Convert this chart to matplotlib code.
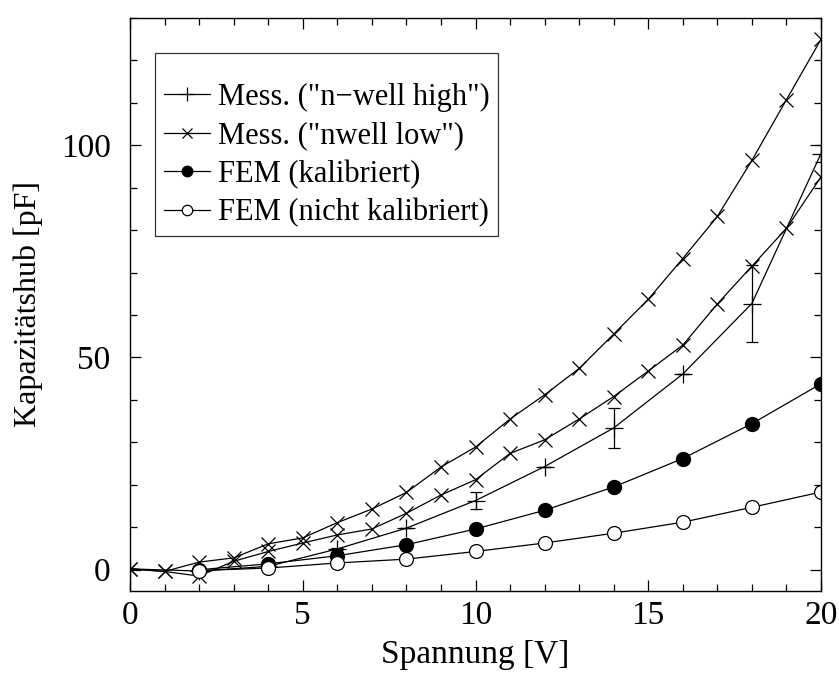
import numpy as np
import matplotlib
matplotlib.use("Agg")
import matplotlib.pyplot as plt
from matplotlib.ticker import MultipleLocator

plt.rcParams['font.family'] = ['Liberation Serif', 'DejaVu Serif']

# data
volts_all = list(range(0, 21))
volts_even = list(range(0, 21, 2))
volts_fem = list(range(2, 21, 2))

nwell_low_a = [0.2, -0.4, 1.8, 2.8, 6.1, 7.5, 11.1, 14.3, 18.2, 24.2, 28.9,
               35.5, 41.2, 47.4, 55.5, 63.7, 73.3, 83.2, 96.4, 110.7, 124.9]
nwell_low_b = [0.2, -0.4, -1.5, 2.0, 4.3, 6.3, 8.2, 9.6, 13.3, 17.6, 21.2,
               27.4, 30.6, 35.5, 40.8, 46.8, 52.9, 62.6, 71.5, 80.4, 92.5]
nwell_high = [0.2, -0.3, 0.8, 4.9, 9.8, 16.3, 24.3, 33.4, 46.1, 62.7, 98.0]
nwell_high_err = [0, 0, 0, 0.3, 0, 2.0, 0, 4.8, 0, 9.0, 2.0]
fem_kal = [0.0, 1.4, 3.3, 5.9, 9.6, 14.0, 19.5, 26.2, 34.4, 43.8]
fem_nicht = [-0.2, 0.4, 1.6, 2.5, 4.3, 6.3, 8.6, 11.2, 14.7, 18.3]

fig = plt.figure(figsize=(8.39, 6.84), dpi=100)
ax = fig.add_axes([0.155, 0.136, 0.8235, 0.838])

lw = 0.9
ax.errorbar(volts_even, nwell_high, yerr=nwell_high_err, fmt='none',
            ecolor='black', elinewidth=lw, capsize=4.5, capthick=lw)
ax.plot(volts_even, nwell_high, color='black', lw=lw, marker='+',
        ms=13, mew=lw, label='Mess. ("n\u2212well high")')
ax.plot(volts_all, nwell_low_a, color='black', lw=lw, marker='x',
        ms=10, mew=lw, label='Mess. ("nwell low")')
ax.plot(volts_all, nwell_low_b, color='black', lw=lw, marker='x',
        ms=10, mew=lw)
ax.plot(volts_fem, fem_kal, color='black', lw=lw, marker='o', ms=10,
        mfc='black', mec='black', label='FEM (kalibriert)')
ax.plot(volts_fem, fem_nicht, color='black', lw=lw, marker='o', ms=10,
        mfc='white', mec='black', mew=lw, label='FEM (nicht kalibriert)')

ax.set_xlim(0, 20)
ax.set_ylim(-5, 130)
ax.xaxis.set_major_locator(MultipleLocator(5))
ax.xaxis.set_minor_locator(MultipleLocator(1))
ax.yaxis.set_major_locator(MultipleLocator(50))
ax.yaxis.set_minor_locator(MultipleLocator(10))
ax.tick_params(which='both', direction='in', top=True, right=True,
               labelsize=24, width=0.9)
ax.tick_params(which='major', length=8)
ax.tick_params(which='minor', length=5)
ax.tick_params(axis='x', which='major', pad=7)
ax.tick_params(axis='y', which='major', pad=14)
for sp in ax.spines.values():
    sp.set_linewidth(1.0)

ax.set_xlabel('Spannung [V]', fontsize=24, labelpad=6)
ax.set_ylabel('Kapazitätshub [pF]', fontsize=23, labelpad=13)

# empty small title gives the extra space above the first entry
leg = ax.legend(loc='upper left', bbox_to_anchor=(0.036, 0.939),
                borderaxespad=0, fontsize=22, frameon=True, fancybox=False,
                edgecolor='black', handlelength=1.5, handletextpad=0.25,
                markerscale=0.75, labelspacing=0.3, borderpad=0.3,
                title=' ', title_fontsize=9)
leg.get_frame().set_linewidth(0.9)

fig.savefig('out.png', dpi=100)
